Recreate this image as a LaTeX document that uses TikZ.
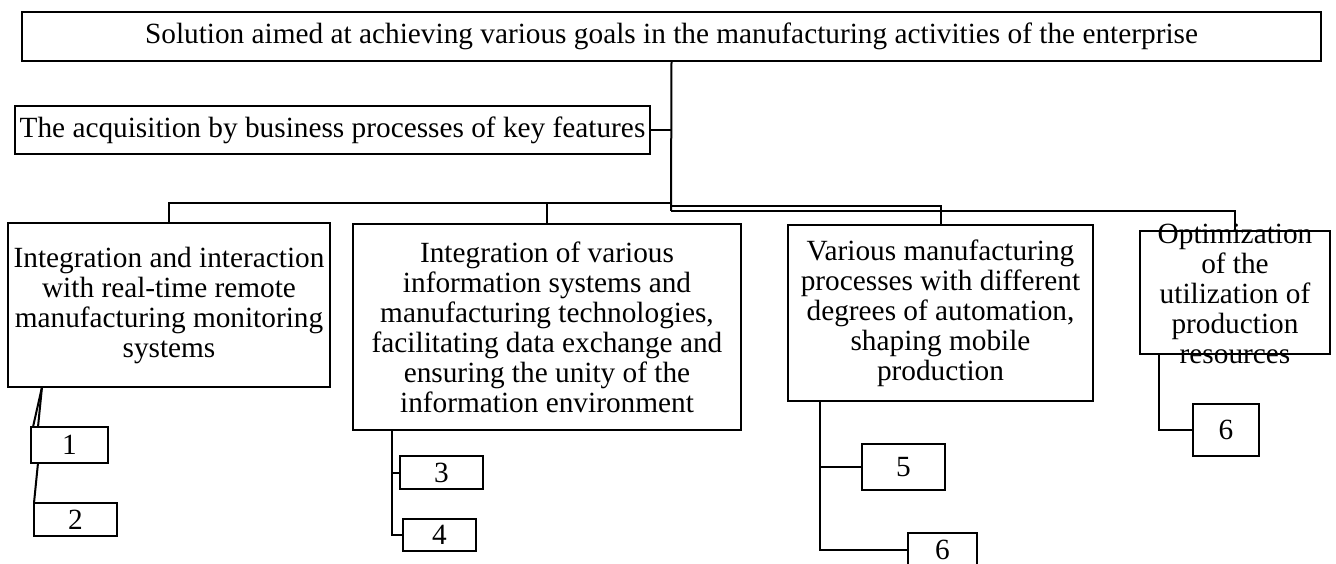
\documentclass[tikz,border=0pt]{standalone}
\usepackage{fontspec}
\setmainfont{Liberation Serif}
\newcommand\diagfont{\fontsize{29.3}{30}\selectfont}
\tikzset{
  box/.style={draw, line width=2pt, rectangle, inner sep=0pt, outer sep=0pt, align=center, font=\diagfont},
  plain/.style={inner sep=0pt, outer sep=0pt, align=center, font=\diagfont},
  conn/.style={line width=2pt}
}
\begin{document}
\begin{tikzpicture}[x=1pt,y=-1pt]
\clip (0,0) rectangle (1336,564);
\fill[white] (0,0) rectangle (1336,564);
% main boxes
\node[box, minimum width=1299pt, minimum height=49pt] (top) at (671.5,36.5)
  {Solution aimed at achieving various goals in the manufacturing activities of the enterprise};
\node[box, minimum width=635pt, minimum height=48pt] (acq) at (332.5,130)
  {The acquisition by business processes of key features};
\node[box, minimum width=322pt, minimum height=164pt] (b1) at (169,305)
  {Integration and interaction\\with real-time remote\\manufacturing monitoring\\systems};
\node[box, minimum width=388pt, minimum height=206pt] (b2) at (547,327)
  {Integration of various\\information systems and\\manufacturing technologies,\\facilitating data exchange and\\ensuring the unity of the\\information environment};
\node[box, minimum width=305pt, minimum height=176pt] (b3) at (940.5,313)
  {Various manufacturing\\processes with different\\degrees of automation,\\shaping mobile\\production};
\node[plain] (optt) at (1235,293.5)
  {Optimization\\of the\\utilization of\\production\\resources};
\node[box, minimum width=190pt, minimum height=123pt] (opt) at (1235,292.5) {};
% number boxes
\node[box, minimum width=77pt, minimum height=36pt] (n1) at (69.5,445) {1};
\node[box, minimum width=83pt, minimum height=33pt] (n2) at (75.5,519.5) {2};
\node[box, minimum width=83pt, minimum height=33pt] (n3) at (441.5,472.5) {3};
\node[box, minimum width=73pt, minimum height=32pt] (n4) at (439.5,535) {4};
\node[box, minimum width=83pt, minimum height=46pt] (n5) at (903.5,467) {5};
\node[box, minimum width=69pt, minimum height=34pt] (n6a) at (942.5,550) {6};
\node[box, minimum width=66pt, minimum height=52pt] (n6b) at (1226,430) {6};
% bus junctions
\coordinate (busL) at (671,203);
\coordinate (bus3) at (671,206);
\coordinate (busO) at (671,211);
% connectors
\draw[conn] (top.south) -- (busO);
\draw[conn] (acq.east) -- (acq.east -| top.south);
\draw[conn] (busL) -| (b1.north);
\draw[conn] (b2.north) |- (busL);
\draw[conn] (bus3) -| (b3.north);
\draw[conn] (busO) -| (opt.north);
% children of b1
\draw[conn] ([xshift=34pt]b1.south west) -- ([xshift=2pt]n1.north west);
\draw[conn] ([xshift=34pt]b1.south west) -- ([xshift=7pt]n1.north west);
\draw[conn] ([xshift=7pt]n1.south west) -- (n2.north west);
% children of b2
\draw[conn] ([xshift=39pt]b2.south west) |- (n3.west);
\draw[conn] ([xshift=39pt]b2.south west) |- (n4.west);
% children of b3
\draw[conn] ([xshift=32pt]b3.south west) |- (n5.west);
\draw[conn] ([xshift=32pt]b3.south west) |- (n6a.west);
% children of opt
\draw[conn] ([xshift=19pt]opt.south west) |- (n6b.west);
\end{tikzpicture}
\end{document}
